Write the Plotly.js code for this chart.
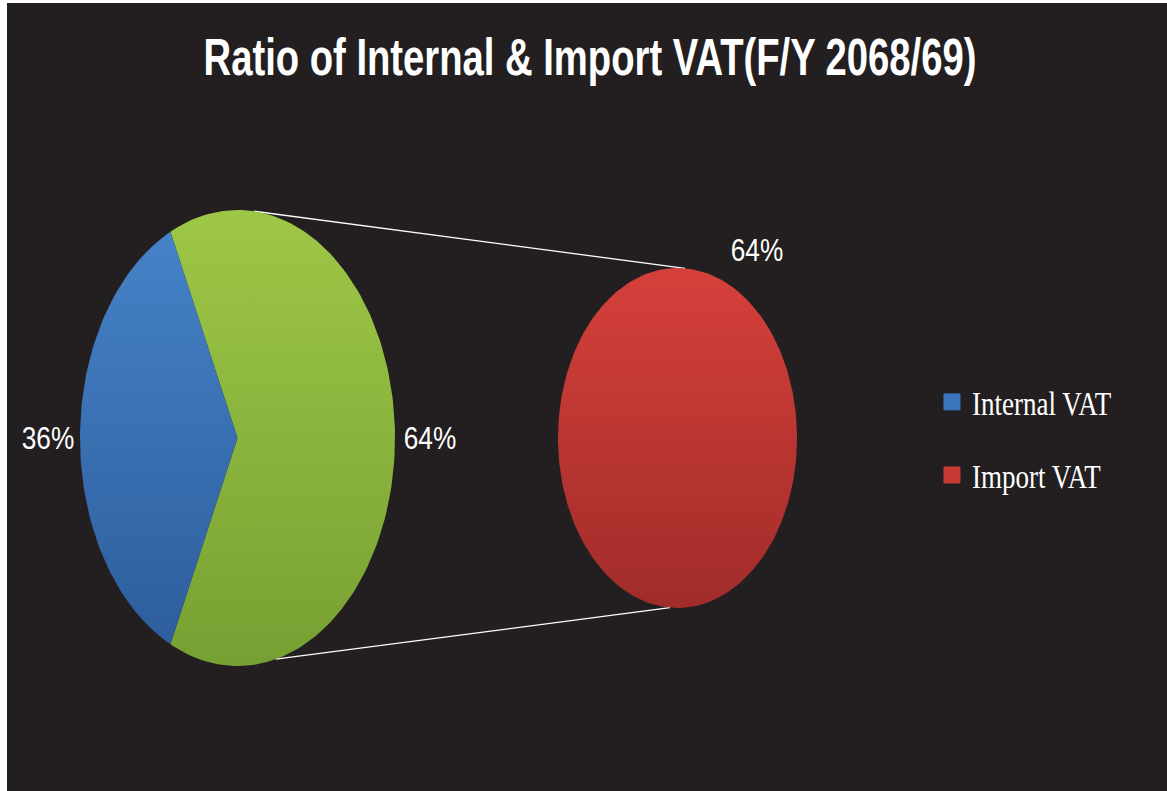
<!DOCTYPE html>
<html>
<head>
<meta charset="utf-8">
<script src="https://cdn.plot.ly/plotly-3.0.1.min.js"></script>
<style>
  html, body { margin: 0; padding: 0; background: #ffffff; width: 1167px; height: 791px; overflow: hidden; }
  #chart { position: absolute; left: 7px; top: 3px; width: 1160px; height: 788px; }
  /* condensed look of the original fonts */
  #chart text.gtitle { transform-box: fill-box; transform-origin: center; transform: scaleX(0.735); }
  #chart text.annotation-text { transform-box: fill-box; transform-origin: center; transform: scaleX(0.82); }
  #chart text.legendtext { transform-box: fill-box; transform-origin: left center; transform: scaleY(1.25); }
</style>
</head>
<body>
<div id="chart"></div>
<script>
// ---- data ----
const categories = ['Internal VAT', 'Import VAT'];
const values = [36, 64];
const otherLabel = 'Other';            // aggregate slice of the first pie (= Import VAT)
const secondaryIdx = [1];              // categories moved to the secondary pie
const chartTitle = 'Ratio of Internal & Import VAT(F/Y 2068/69)';

// ---- geometry / style ----
const W = 1160, H = 788;
const P1 = {cx: 230.5, cy: 353, rx: 157.5, ry: 228};
const P2 = {cx: 670.5, cy: 353, rx: 119.5, ry: 170};
const grads = {
  'Internal VAT': ['#2c5c9b', '#4684c9'],
  'Other': ['#77a033', '#9ec747'],
  'Import VAT': ['#a02c29', '#d6403b']
};
const legendColors = {'Internal VAT': '#3a74ba', 'Import VAT': '#c63a35'};
const labelFont = {family: '"Liberation Sans", Arial, sans-serif', size: 32, color: '#ffffff'};

const total = values.reduce((a, b) => a + b, 0);
const secTotal = secondaryIdx.reduce((s, i) => s + values[i], 0);
const mainItems = categories.map((c, i) => ({name: c, v: values[i]})).filter((d, i) => !secondaryIdx.includes(i));
mainItems.push({name: otherLabel, v: secTotal});

function pt(p, deg) {
  const a = deg * Math.PI / 180;
  return [p.cx + p.rx * Math.cos(a), p.cy + p.ry * Math.sin(a)];
}
function slice(p, a0, a1, withCenter) {
  const xs = [], ys = [];
  if (withCenter) { xs.push(p.cx); ys.push(p.cy); }
  const n = Math.max(8, Math.ceil(Math.abs(a1 - a0) / 1.5));
  for (let k = 0; k <= n; k++) {
    const q = pt(p, a0 + (a1 - a0) * k / n);
    xs.push(q[0]); ys.push(q[1]);
  }
  xs.push(xs[0]); ys.push(ys[0]);
  return {xs, ys};
}
function sliceTrace(p, a0, a1, withCenter, name) {
  const s = slice(p, a0, a1, withCenter);
  return {
    type: 'scatter', mode: 'lines', x: s.xs, y: s.ys, fill: 'toself',
    line: {width: 0, color: 'rgba(0,0,0,0)'},
    fillgradient: {type: 'vertical', start: p.cy - p.ry, stop: p.cy + p.ry,
                   colorscale: [[0, grads[name][0]], [1, grads[name][1]]]},
    hoverinfo: 'skip', showlegend: false, name: name
  };
}

const traces = [];
const annotations = [];
// first pie: aggregate slice centred at 0 deg (right side), others continue counter-clockwise
const otherSpan = mainItems[mainItems.length - 1].v / total * 360;
let start = otherSpan / 2;
traces.push(sliceTrace(P1, -otherSpan / 2, otherSpan / 2, true, otherLabel));
annotations.push({x: P1.cx + P1.rx + 35, y: P1.cy,
  text: Math.round(secTotal / total * 100) + '%'});
mainItems.slice(0, -1).forEach(d => {
  const span = d.v / total * 360;
  traces.push(sliceTrace(P1, start, start + span, true, d.name));
  const mid = (start + span / 2) * Math.PI / 180;
  annotations.push({x: P1.cx + (P1.rx + 32) * Math.cos(mid), y: P1.cy + (P1.ry + 32) * Math.sin(mid),
    text: Math.round(d.v / total * 100) + '%'});
  start += span;
});
// secondary pie
let s2 = 90;
secondaryIdx.forEach(i => {
  const span = values[i] / secTotal * 360;
  traces.push(sliceTrace(P2, s2, s2 - span, span < 360, categories[i]));
  annotations.push({x: P2.cx + 0.665 * P2.rx, y: P2.cy + 1.107 * P2.ry,
    text: Math.round(values[i] / total * 100) + '%'});
  s2 -= span;
});
// connector lines
const t1 = pt(P1, 84), t2 = pt(P2, 86.4), b1 = pt(P1, -76), b2 = pt(P2, -93.6);
const shapes = [
  {type: 'line', xref: 'x', yref: 'y', x0: t1[0], y0: t1[1], x1: t2[0], y1: t2[1], line: {color: '#ffffff', width: 1.3}, layer: 'below'},
  {type: 'line', xref: 'x', yref: 'y', x0: b1[0], y0: b1[1], x1: b2[0], y1: b2[1], line: {color: '#ffffff', width: 1.3}, layer: 'below'}
];
// legend entries
categories.forEach((c, i) => {
  traces.push({type: 'scatter', mode: 'markers', x: [null], y: [null], name: c,
    legendgroup: 'g' + i, marker: {symbol: 'square', size: 16, color: legendColors[c], line: {width: 1, color: legendColors[c]}},
    hoverinfo: 'skip', showlegend: true});
});

const layout = {
  width: W, height: H,
  paper_bgcolor: '#231f20', plot_bgcolor: '#231f20',
  margin: {l: 0, r: 0, t: 0, b: 0},
  xaxis: {range: [0, W], visible: false, fixedrange: true},
  yaxis: {range: [0, H], visible: false, fixedrange: true},
  title: {text: '<b>' + chartTitle.replace(/&/g, '&amp;') + '</b>', x: 0.5026, xanchor: 'center', y: 0.9315, yanchor: 'middle',
    font: {family: '"Liberation Sans", Arial, sans-serif', size: 52, color: '#ffffff'}},
  showlegend: true,
  legend: {x: 0.7974, xanchor: 'left', y: 0.5243, yanchor: 'top', bgcolor: 'rgba(0,0,0,0)',
    traceorder: 'grouped', tracegroupgap: 35,
    font: {family: '"Liberation Serif", "Times New Roman", serif', size: 27, color: '#ffffff'}},
  annotations: annotations.map(a => Object.assign({xref: 'x', yref: 'y', showarrow: false, xanchor: 'center', yanchor: 'middle', font: labelFont}, a)),
  shapes: shapes
};

Plotly.newPlot('chart', traces, layout, {displayModeBar: false, staticPlot: true});
</script>
</body>
</html>
